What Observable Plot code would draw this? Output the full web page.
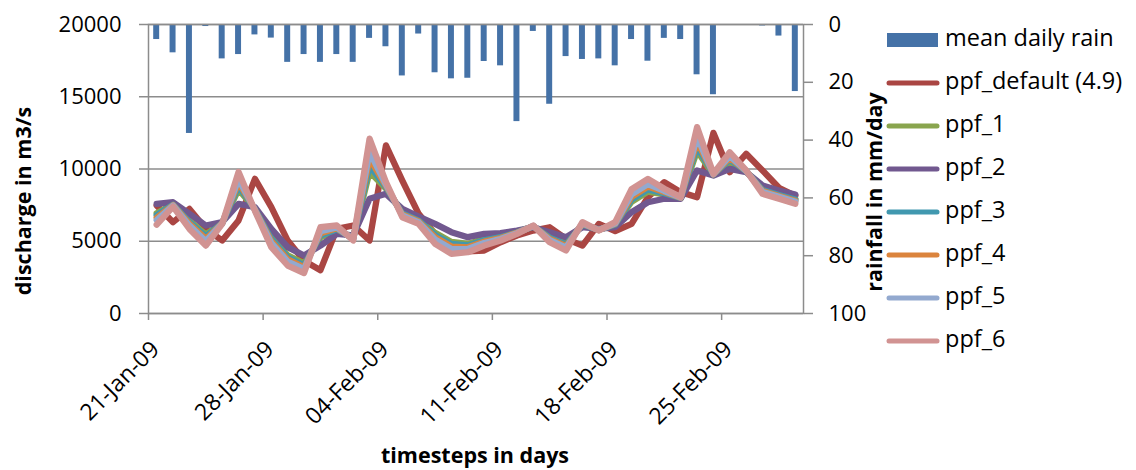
<!DOCTYPE html>
<html><head><meta charset="utf-8">
<script src="https://cdn.jsdelivr.net/npm/d3@7"></script>
<script src="https://cdn.jsdelivr.net/npm/@observablehq/plot@0.6"></script>
<style>
body{margin:0;background:#fff;font-family:"Open Sans",sans-serif;}
#wrap{position:relative;width:1136px;height:470px;overflow:hidden;}
#overlay{position:absolute;left:0;top:0;pointer-events:none;}
</style></head><body><div id="wrap"></div>
<script>
// ---- data ----
const startDate = "2009-01-21";
const endDate = "2009-03-02"; // exclusive
const rain = [5.2, 9.8, 37.7, 0.7, 11.9, 10.4, 3.6, 4.7, 13.1, 10.4,
              13.1, 10.4, 13.1, 4.8, 7.7, 17.8, 3.3, 16.7, 18.8, 18.6,
              12.8, 14.3, 33.6, 2.4, 27.6, 11.1, 12.1, 11.9, 14.3, 5.2,
              12.7, 4.8, 5.2, 17.4, 24.3, 0, 0.3, 0.5, 4.0, 23.2];
const ppfDefault = [7470, 6320, 7240, 5860, 5050, 6440, 9320, 7360, 5050, 3650,
                    3000, 5860, 6090, 5050, 11630, 9200, 6900, 5510, 4700, 4300,
                    4360, 4930, 5400, 5740, 5970, 5170, 4700, 6200, 5700, 6200,
                    8050, 9090, 8400, 8050, 12500, 9780, 11050, 9900, 8700, 8150];
const ppf1 = [6940, 7560, 6430, 5460, 6270, 8580, 7240, 5290, 4020, 3470,
              5270, 5770, 5240, 9810, 8650, 6980, 6480, 5580, 4950, 4810,
              5150, 5330, 5640, 6020, 5320, 4870, 6130, 5810, 6130, 7730,
              8430, 8250, 7990, 11250, 9600, 10530, 9830, 8600, 8250, 7940];
const ppf2 = [7590, 7700, 6900, 6090, 6320, 7590, 7360, 5860, 4590, 4010,
              4700, 5510, 5400, 7940, 8280, 7240, 6710, 6200, 5630, 5280,
              5510, 5560, 5740, 5970, 5630, 5280, 5970, 5860, 5970, 7010,
              7700, 7940, 7940, 9900, 9550, 10010, 9780, 8860, 8510, 8230];
const ppf3 = [6800, 7530, 6320, 5330, 6250, 8810, 7220, 5160, 3890, 3340,
              5400, 5830, 5210, 10230, 8730, 6920, 6430, 5440, 4810, 4710,
              5060, 5280, 5610, 6040, 5250, 4770, 6160, 5790, 6160, 7880,
              8590, 8320, 8000, 11550, 9620, 10640, 9850, 8540, 8200, 7880];
const ppf4 = [6630, 7500, 6200, 5160, 6240, 9070, 7190, 5010, 3740, 3200,
              5550, 5900, 5170, 10730, 8830, 6850, 6370, 5280, 4630, 4580,
              4970, 5220, 5590, 6050, 5160, 4660, 6200, 5780, 6200, 8070,
              8790, 8400, 8010, 11910, 9630, 10780, 9860, 8470, 8130, 7800];
const ppf5 = [6470, 7470, 6080, 5000, 6230, 9310, 7160, 4870, 3600, 3070,
              5690, 5960, 5130, 11190, 8920, 6790, 6310, 5120, 4460, 4470,
              4880, 5160, 5560, 6060, 5080, 4560, 6240, 5770, 6240, 8250,
              8960, 8480, 8030, 12240, 9640, 10910, 9870, 8410, 8070, 7730];
const ppf6 = [6150, 7400, 5850, 4700, 6200, 9800, 7100, 4590, 3320, 2800,
              5970, 6090, 5050, 12100, 9100, 6660, 6200, 4820, 4130, 4240,
              4700, 5050, 5510, 6090, 4930, 4360, 6320, 5740, 6320, 8600,
              9320, 8630, 8050, 12900, 9670, 11160, 9900, 8280, 7940, 7590];
const seriesNames = ["ppf_default (4.9)", "ppf_1", "ppf_2", "ppf_3", "ppf_4", "ppf_5", "ppf_6"];
const seriesValues = [ppfDefault, ppf1, ppf2, ppf3, ppf4, ppf5, ppf6];
const seriesColors = ["#AA4643", "#89A54E", "#71588F", "#4198AF", "#DB843D", "#93A9CF", "#D19392"];
const rainName = "mean daily rain";
const rainColor = "#4572A7";
const leftTicks = [0, 5000, 10000, 15000, 20000];
const rightTickLabels = [0, 20, 40, 60, 80, 100];
const xTickDates = ["2009-01-21", "2009-01-28", "2009-02-04", "2009-02-11", "2009-02-18", "2009-02-25"];
const yMax = 20000, rainMax = 100;

// ---- build rows ----
const k = yMax / rainMax; // rainfall (mm/day, reversed) -> discharge scale
const days = d3.utcDay.range(new Date(startDate), new Date(endDate));
const rainRows = days.map((d, i) => ({date: d, next: d3.utcDay.offset(d, 1), rain: rain[i]}));
const lineRows = seriesNames.flatMap((name, s) =>
  seriesValues[s].map((v, i) => ({series: name, date: d3.utcHour.offset(days[i], 12), value: v})));
const grid = "#8c8c8c";
const xTicks = xTickDates.map(s => new Date(s));

const chart = Plot.plot({
  width: 1136, height: 470,
  marginLeft: 148, marginRight: 333, marginTop: 24, marginBottom: 157,
  style: {fontFamily: "'Open Sans', sans-serif", fontSize: "22px", color: "#000", background: "#fff", overflow: "visible"},
  x: {type: "utc", domain: [new Date(startDate), new Date(endDate)]},
  y: {domain: [0, yMax]},
  color: {domain: seriesNames, range: seriesColors},
  marks: [
    Plot.gridY(leftTicks, {stroke: grid, strokeOpacity: 1, strokeWidth: 1.5}),
    Plot.rect(rainRows, {x1: "date", x2: "next", y1: yMax, y2: d => yMax - d.rain * k,
      fill: rainColor, insetLeft: 5.2, insetRight: 5.2}),
    Plot.line(lineRows, {x: "date", y: "value", z: "series", stroke: "series",
      strokeWidth: 6.3, strokeLinejoin: "round", strokeLinecap: "round"}),
    Plot.frame({stroke: grid, strokeWidth: 1.5}),
    Plot.axisY(leftTicks, {anchor: "left", tickSize: 9, tickPadding: 18, label: null, stroke: grid, strokeWidth: 1.5,
      tickFormat: d => String(d), fontSize: 22}),
    Plot.axisY(rightTickLabels.map(r => yMax - r * k), {anchor: "right", tickSize: 9, tickPadding: 16,
      tickFormat: v => String(Math.round((yMax - v) / k)), label: null, stroke: grid, strokeWidth: 1.5, fontSize: 22}),
    // tick marks only
    Plot.axisX(xTicks, {anchor: "bottom", tickSize: 7, fill: "none", label: null, stroke: grid, strokeWidth: 1.5}),
    // rotated labels only
    Plot.axisX(xTicks, {anchor: "bottom", tickSize: 0, tickPadding: 32, dx: 7,
      tickRotate: -45, tickFormat: d3.utcFormat("%d-%b-%y"), label: null, fontSize: 23})
  ]
});
const wrap = document.getElementById("wrap");
wrap.appendChild(chart);

// ---- overlay: axis titles and legend ----
const ov = d3.select(wrap).append("svg").attr("id", "overlay").attr("width", 1136).attr("height", 470)
  .style("font-family", "'Open Sans', sans-serif");
const titleFont = 21.5;
ov.append("text").attr("transform", "translate(25,201) rotate(-90)").attr("text-anchor", "middle")
  .attr("dominant-baseline", "middle").attr("font-weight", "bold").attr("font-size", titleFont).text("discharge in m3/s");
ov.append("text").attr("transform", "translate(876,192) rotate(-90)").attr("text-anchor", "middle")
  .attr("dominant-baseline", "middle").attr("font-weight", "bold").attr("font-size", titleFont).text("rainfall in mm/day");
ov.append("text").attr("x", 475).attr("y", 457).attr("text-anchor", "middle")
  .attr("dominant-baseline", "middle").attr("font-weight", "bold").attr("font-size", titleFont).text("timesteps in days");

const legItems = [{name: rainName, color: rainColor, bar: true}]
  .concat(seriesNames.map((n, i) => ({name: n, color: seriesColors[i], bar: false})));
legItems.forEach((it, i) => {
  const y = 40 + i * 43.0;
  if (it.bar) ov.append("rect").attr("x", 887).attr("y", y - 7).attr("width", 51).attr("height", 14).attr("fill", it.color);
  else ov.append("line").attr("x1", 889).attr("x2", 937).attr("y1", y).attr("y2", y)
    .attr("stroke", it.color).attr("stroke-width", 5).attr("stroke-linecap", "round");
  ov.append("text").attr("x", 945).attr("y", y).attr("dominant-baseline", "middle")
    .attr("font-size", 23.5).text(it.name);
});
</script></body></html>
